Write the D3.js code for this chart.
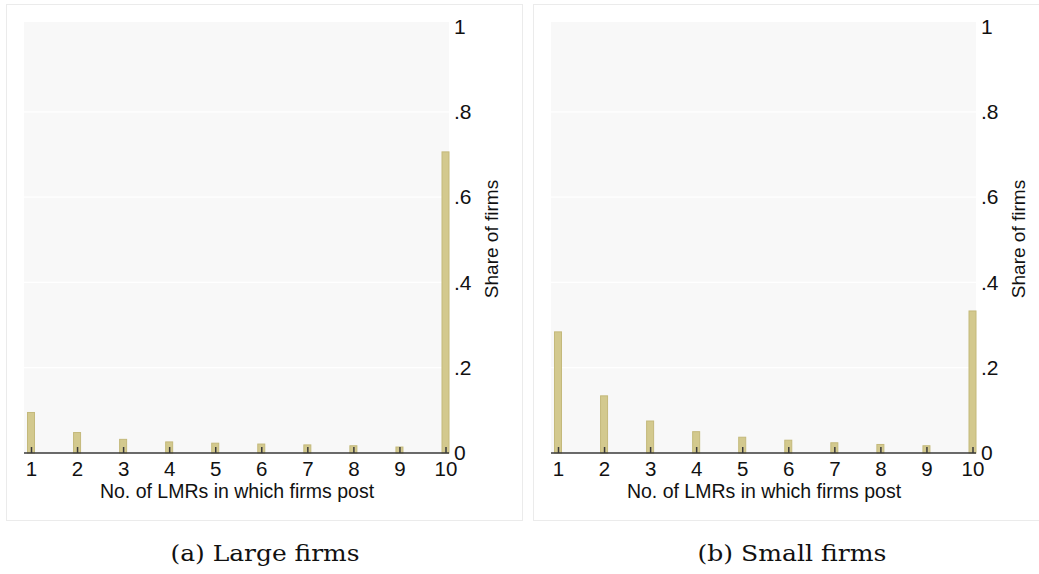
<!DOCTYPE html>
<html>
<head>
<meta charset="utf-8">
<script src="https://cdn.jsdelivr.net/npm/d3@7"></script>
<style>
  body { margin: 0; background: #fff; }
  svg { display: block; }
</style>
</head>
<body>
<div id="chart"></div>
<script>
// number of LMRs (x categories)
const lmrs = [1, 2, 3, 4, 5, 6, 7, 8, 9, 10];
// share of firms
const largeShare = [0.095, 0.048, 0.032, 0.026, 0.023, 0.021, 0.019, 0.017, 0.014, 0.706];
const smallShare = [0.284, 0.134, 0.075, 0.050, 0.037, 0.030, 0.024, 0.020, 0.017, 0.333];
const yTicks = [0, 0.2, 0.4, 0.6, 0.8, 1];
const captions = ["(a) Large firms", "(b) Small firms"];
const xTitle = "No. of LMRs in which firms post";
const yTitle = "Share of firms";

const W = 1039, H = 574;
const panelOffset = 527;

let svg = d3.select("#chart")
  .append("svg")
  .attr("width", W)
  .attr("height", H);

function drawPanel(values, caption, dx) {
  let g = svg.append("g").attr("transform", "translate(" + dx + ",0)");

  // outer frame of the panel
  g.append("rect")
    .attr("x", 6.5).attr("y", 4.5)
    .attr("width", 516).attr("height", 516)
    .attr("fill", "#fff")
    .attr("stroke", "#ebebeb")
    .attr("stroke-width", 1);

  // plot region
  let plotLeft = 24, plotRight = 449, plotTop = 22, plotBottom = 453;
  g.append("rect")
    .attr("x", plotLeft).attr("y", plotTop)
    .attr("width", plotRight - plotLeft).attr("height", plotBottom - plotTop)
    .attr("fill", "#f8f8f8");

  let x = d3.scaleLinear().domain([1, 10]).range([31, 445.5]);
  let y = d3.scaleLinear().domain([0, 1]).range([453, 26.5]);

  // white grid lines
  g.selectAll(".grid")
    .data(yTicks.filter(d => d > 0 && d < 1))
    .enter()
    .append("line")
    .attr("x1", plotLeft).attr("x2", plotRight)
    .attr("y1", d => y(d)).attr("y2", d => y(d))
    .attr("stroke", "#fff")
    .attr("stroke-width", 1.2);

  // bars
  let data = lmrs.map((k, i) => ({k: k, v: values[i]}));
  let bw = 7;
  g.selectAll(".bar")
    .data(data)
    .enter()
    .append("rect")
    .attr("x", d => x(d.k) - bw / 2)
    .attr("y", d => y(d.v))
    .attr("width", bw)
    .attr("height", d => y(0) - y(d.v))
    .attr("fill", "#d3c98e")
    .attr("stroke", "#c4b97b")
    .attr("stroke-width", 1);

  // x axis line
  g.append("line")
    .attr("x1", plotLeft).attr("x2", plotRight)
    .attr("y1", y(0)).attr("y2", y(0))
    .attr("stroke", "#3a3a3a")
    .attr("stroke-width", 1.5);

  let xAxis = g.append("g")
    .attr("transform", "translate(0," + y(0) + ")")
    .call(d3.axisBottom(x).tickValues(lmrs).tickSize(-6).tickSizeOuter(0).tickPadding(8).tickFormat(d3.format("d")));
  xAxis.select(".domain").remove();
  xAxis.selectAll("line").attr("stroke", "#3a3a3a").attr("stroke-width", 1.5);
  xAxis.selectAll("text")
    .attr("fill", "#111")
    .style("font-family", "Liberation Sans, Arial, sans-serif")
    .style("font-size", "20.5px");

  let yAxis = g.append("g")
    .attr("transform", "translate(" + plotRight + ",0)")
    .call(d3.axisRight(y).tickValues(yTicks).tickSize(0).tickPadding(5)
      .tickFormat(d => d === 0 ? "0" : d === 1 ? "1" : d3.format(".1f")(d).replace(/^0/, "")));
  yAxis.select(".domain").remove();
  yAxis.selectAll("text")
    .attr("fill", "#111")
    .style("font-family", "Liberation Sans, Arial, sans-serif")
    .style("font-size", "21px");

  // axis titles
  g.append("text")
    .attr("x", 237)
    .attr("y", 498)
    .attr("text-anchor", "middle")
    .style("font-family", "Liberation Sans, Arial, sans-serif")
    .style("font-size", "19.5px")
    .attr("fill", "#111")
    .text(xTitle);

  g.append("text")
    .attr("transform", "translate(491,239) rotate(-90)")
    .attr("dy", "0.35em")
    .attr("text-anchor", "middle")
    .style("font-family", "Liberation Sans, Arial, sans-serif")
    .style("font-size", "19px")
    .attr("fill", "#111")
    .text(yTitle);

  // caption below the panel
  g.append("text")
    .attr("x", 265)
    .attr("y", 561)
    .attr("text-anchor", "middle")
    .attr("textLength", 189)
    .attr("lengthAdjust", "spacingAndGlyphs")
    .style("font-family", "DejaVu Serif, serif")
    .style("font-size", "23px")
    .attr("fill", "#111")
    .text(caption);
}

drawPanel(largeShare, captions[0], 0);
drawPanel(smallShare, captions[1], panelOffset);
</script>
</body>
</html>
